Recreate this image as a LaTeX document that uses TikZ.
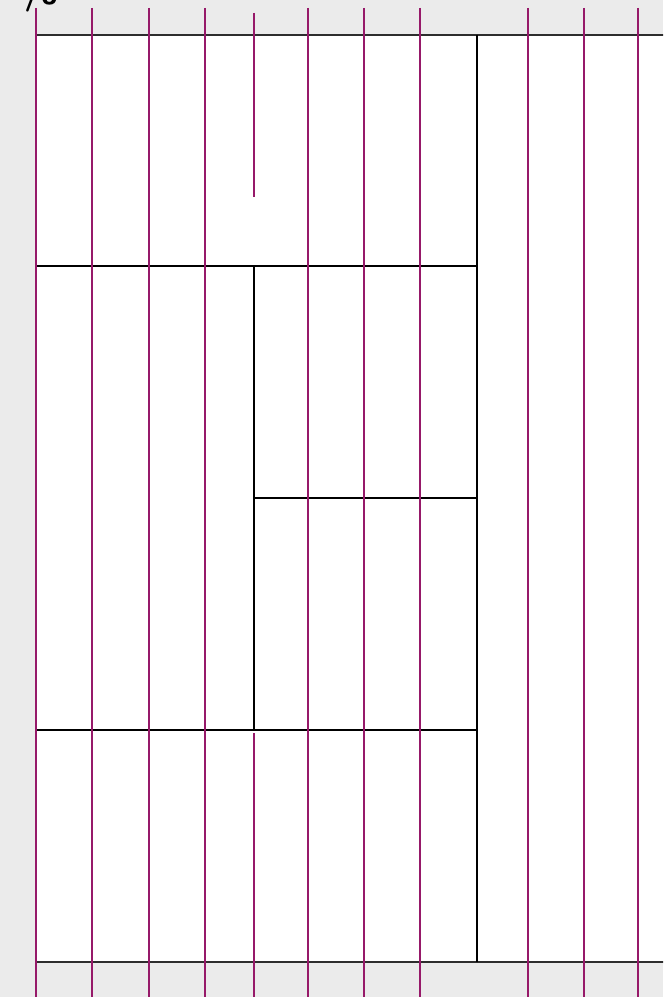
\documentclass[tikz,border=0pt]{standalone}
\usepackage{xcolor}
\usepackage{tikz}
\usetikzlibrary{calc}
\definecolor{gridMagenta}{RGB}{150,25,105}
\definecolor{pageGray}{RGB}{235,235,235}
\definecolor{frameDark}{RGB}{45,45,45}

\begin{document}
\begin{tikzpicture}[x=0.02cm,y=-0.02cm]
\useasboundingbox (0,0) rectangle (663,997);
\clip (0,0) rectangle (663,997);
\fill[pageGray] (0,0) rectangle (663,997);
\fill[white] (36,35) rectangle (670,962);
\node[anchor=base west, inner sep=0pt, font=\sffamily\bfseries\LARGE] (pagenum) at (24,5) {/8};

% frame and cells
\draw[frameDark, line width=0.9pt] (36,35) -- (670,35);
\draw[frameDark, line width=0.9pt] (36,962) -- (670,962);
\draw[black, line width=0.8pt] (477,35) -- (477,962);
\draw[black, line width=0.8pt] (36,266) -- (477,266);
\draw[black, line width=0.8pt] (36,730) -- (477,730);
\draw[black, line width=0.8pt] (254,266) -- (254,730);
\draw[black, line width=0.8pt] (254,498) -- (477,498);

% columns
\foreach \x in {36,92,149,205,308,364,420,528,584,638}
  \draw[gridMagenta, line width=1.3pt] (\x,8) -- (\x,997);
\draw[gridMagenta, line width=1.3pt] (254,13) -- (254,197);
\draw[gridMagenta, line width=1.3pt] (254,733) -- (254,997);
\end{tikzpicture}
\end{document}
